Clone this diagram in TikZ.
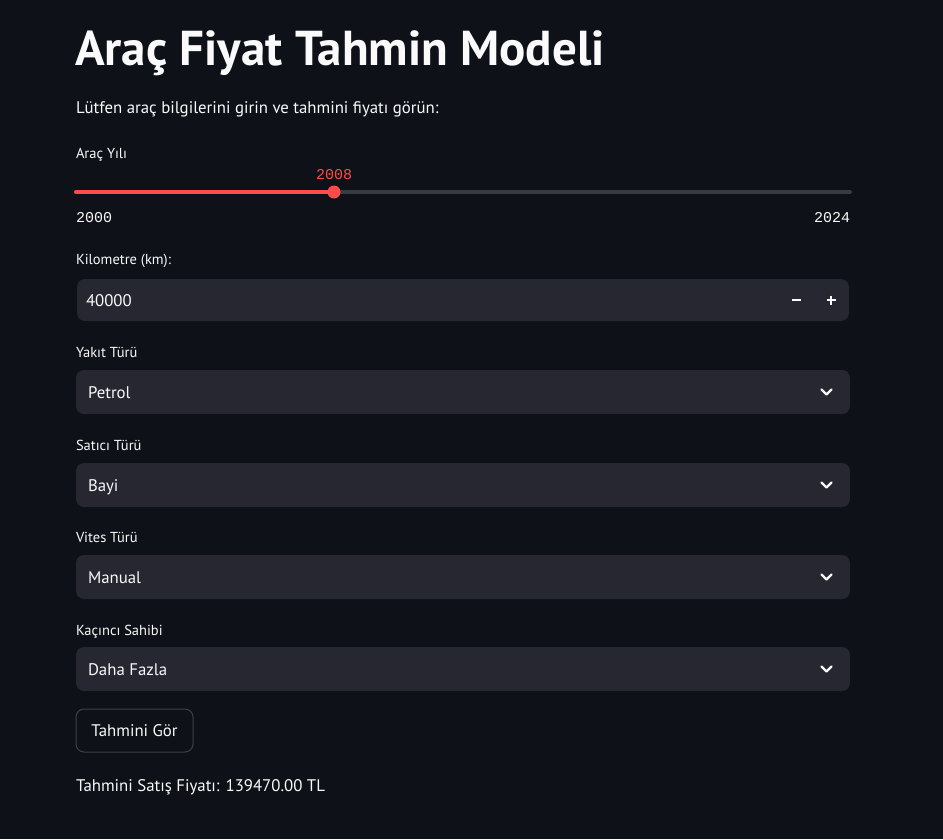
\documentclass[tikz,border=0pt]{standalone}
\usepackage{fontspec}
\setmainfont{PT Sans}
\setmonofont{Liberation Mono}
\definecolor{bg}{RGB}{14,17,23}
\definecolor{fieldbg}{RGB}{38,39,48}
\definecolor{fg}{RGB}{250,250,250}
\definecolor{accent}{RGB}{255,75,75}
\definecolor{track}{RGB}{58,60,68}
\definecolor{btnborder}{RGB}{61,64,68}
\newcommand{\fs}[1]{\fontsize{#1}{#1}\selectfont}
\tikzset{
  txt/.style={inner sep=0pt, outer sep=0pt, text=fg, anchor=base west},
  titletxt/.style={txt, font=\fs{49}\bfseries},
  bodytxt/.style={txt, font=\fs{16.8}},
  lbltxt/.style={txt, font=\fs{14.5}},
  monotxt/.style={txt, font=\ttfamily\fs{15}},
  field/.style={fill=fieldbg, draw=none, rounded corners=8pt, inner sep=0pt, minimum height=44pt, minimum width=774pt},
  chev/.style={draw=fg, line width=2.2pt, line cap=round, line join=round},
}
\begin{document}
\begin{tikzpicture}[x=1pt,y=-1pt]
\fill[bg] (0,0) rectangle (943,839);
\useasboundingbox (0,0) rectangle (943,839);

% title & subtitle
\node[titletxt] (title) at (75,65) {Araç Fiyat Tahmin Modeli};
\node[bodytxt] (subtitle) at (76,113) {Lütfen araç bilgilerini girin ve tahmini fiyatı görün:};

% slider
\node[lbltxt] (yearlabel) at (76,158) {Araç Yılı};
\coordinate (trackL) at (76,192);
\coordinate (trackR) at (850,192);
\coordinate (knobpos) at (334,192);
\draw[track, line width=4pt, line cap=round] (trackL) -- (trackR);
\draw[accent, line width=4pt, line cap=round] (trackL) -- (knobpos);
\fill[accent] (knobpos) circle (6.5pt);
\node[monotxt, text=accent, anchor=base] (yearval) at (334,179) {2008};
\node[monotxt] (yearmin) at (76,222) {2000};
\node[monotxt, anchor=base east] (yearmax) at (850,222) {2024};

% kilometre
\node[lbltxt] (kmlabel) at (76,264) {Kilometre (km):};
\node[field, minimum width=772pt, minimum height=42pt] (kmbox) at (463,300) {};
\node[bodytxt] (kmval) at (86,306) {40000};
\draw[fg, line width=1.8pt] (792,300) -- (801,300);
\draw[fg, line width=1.8pt] (826.5,300) -- (835.5,300) (831,295.5) -- (831,304.5);

% fuel
\node[lbltxt] (fuellabel) at (76,357) {Yakıt Türü};
\node[field] (fuelbox) at (463,392) {};
\node[bodytxt] (fuelval) at (88,398) {Petrol};
\draw[chev] (821.5,389.5) -- (826.5,394.5) -- (831.5,389.5);

% seller
\node[lbltxt] (sellerlabel) at (76,450) {Satıcı Türü};
\node[field] (sellerbox) at (463,485) {};
\node[bodytxt] (sellerval) at (88,491) {Bayi};
\draw[chev] (821.5,482.5) -- (826.5,487.5) -- (831.5,482.5);

% gear
\node[lbltxt] (gearlabel) at (76,542) {Vites Türü};
\node[field] (gearbox) at (463,577) {};
\node[bodytxt] (gearval) at (88,583) {Manual};
\draw[chev] (821.5,574.5) -- (826.5,579.5) -- (831.5,574.5);

% owner
\node[lbltxt] (ownerlabel) at (76,635) {Kaçıncı Sahibi};
\node[field] (ownerbox) at (463,669) {};
\node[bodytxt] (ownerval) at (88,675) {Daha Fazla};
\draw[chev] (821.5,666.5) -- (826.5,671.5) -- (831.5,666.5);

% button
\node[draw=btnborder, line width=1pt, rounded corners=8pt, minimum width=117pt, minimum height=43pt, inner sep=0pt, text=fg, font=\fs{16.8}] (btn) at (134.5,730.5) {Tahmini Gör};

% result
\node[bodytxt] (result) at (76,791) {Tahmini Satış Fiyatı: 139470.00 TL};
\end{tikzpicture}
\end{document}
